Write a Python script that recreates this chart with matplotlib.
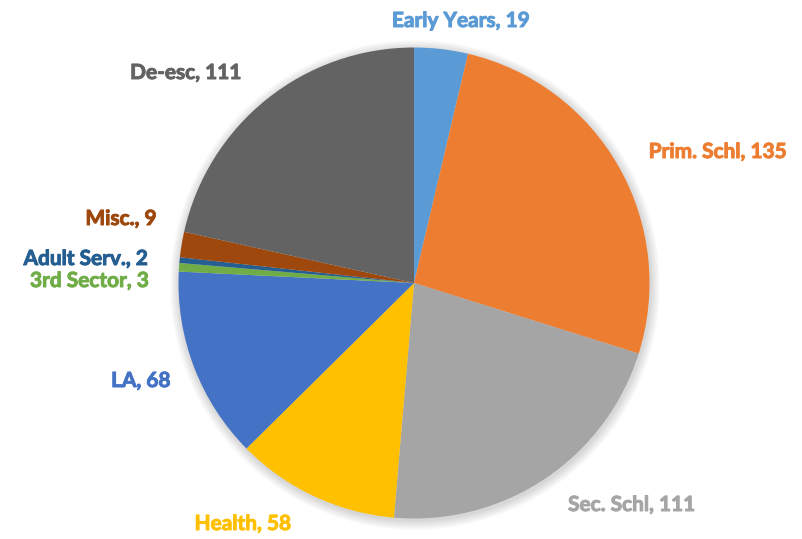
import matplotlib
matplotlib.use("Agg")
import matplotlib.pyplot as plt
import matplotlib.patheffects as pe
from matplotlib.patches import Circle

categories = ["Early Years", "Prim. Schl", "Sec. Schl", "Health", "LA",
              "3rd Sector", "Adult Serv.", "Misc.", "De-esc"]
values = [19, 135, 111, 58, 68, 3, 2, 9, 111]
colors = ["#5B9BD5", "#ED7D31", "#A5A5A5", "#FFC000", "#4472C4",
          "#70AD47", "#255E91", "#9E480E", "#636363"]

# label anchor positions (layout, in pixel-like axis units)
label_pos = [(461, 21), (718, 152), (632, 505), (243, 524), (141, 381),
             (90, 281), (86, 259), (121, 219), (186, 73)]

plt.rcParams['font.family'] = ['Lato', 'DejaVu Sans']

fig = plt.figure(figsize=(8.02, 5.39), dpi=100)
ax = fig.add_axes([0, 0, 1, 1])

cx, cy, r = 414, 283, 235.5

# soft shadow
for k in range(8):
    ax.add_patch(Circle((cx + 1, cy + 2), r + 1 + k * 1.2, color='black',
                        alpha=0.018, lw=0, zorder=0))

# y axis is inverted: startangle -90 points up on screen, and
# counterclock=True in data coordinates runs clockwise on screen
wedges, _ = ax.pie(values, colors=colors, startangle=-90, counterclock=True,
                   center=(cx, cy), radius=r, frame=True,
                   wedgeprops=dict(linewidth=0, zorder=1))
ax.set_xlim(0, 802)
ax.set_ylim(539, 0)
ax.set_aspect('equal')
ax.axis('off')

for cat, val, col, (x, y) in zip(categories, values, colors, label_pos):
    ax.text(x, y, f"{cat}, {val}", color=col, fontsize=15, fontweight='bold',
            ha='center', va='center', zorder=3,
            path_effects=[pe.withStroke(linewidth=0.7, foreground=col)])

fig.savefig("out.png", dpi=100)
